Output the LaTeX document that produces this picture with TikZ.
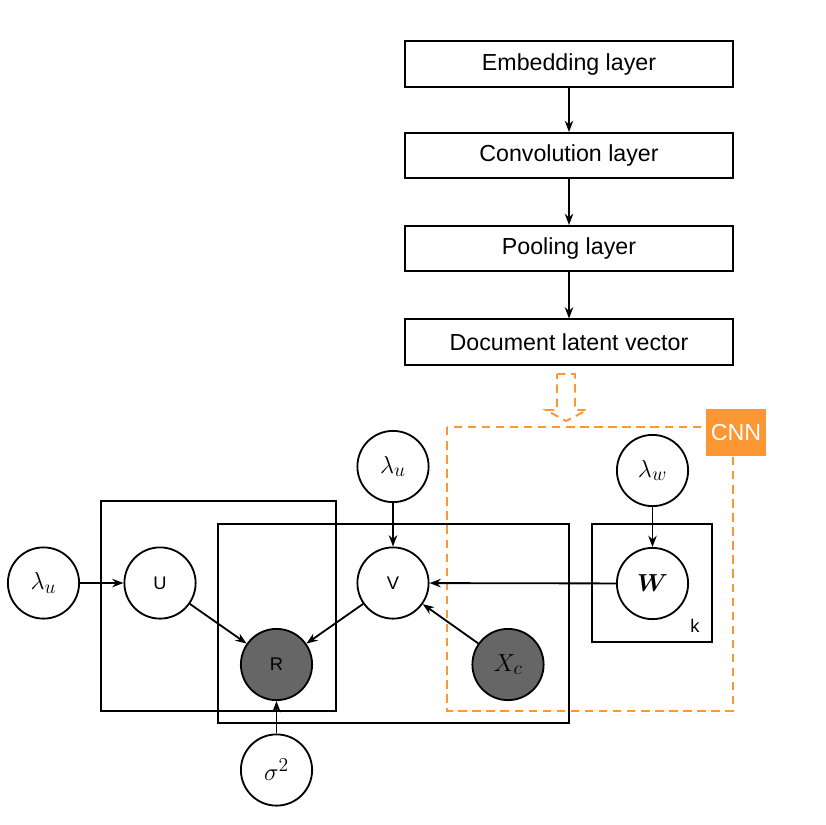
\RequirePackage{fix-cm}
\documentclass[tikz,border=0pt]{standalone}
\usepackage{amsmath}
\usepackage{fontspec}
\setmainfont{Liberation Sans}
\usepackage{tikz}
\usetikzlibrary{arrows.meta}
\definecolor{cnnOrange}{RGB}{252,152,52}
\definecolor{obsGrey}{RGB}{102,102,102}
\DeclareMathSizes{17.5}{17.5}{14}{10}

\begin{document}
\begin{tikzpicture}[
  x=0.025cm, y=-0.025cm,
  layer/.style={draw, line width=1.3pt, minimum width=8.2cm, minimum height=1.13cm,
                font=\fontsize{16.5}{20}\selectfont},
  var/.style={draw, circle, fill=white, line width=1.3pt, minimum size=1.78cm, inner sep=0pt,
              font=\fontsize{17.5}{21}\selectfont},
  obs/.style={var, fill=obsGrey},
  small/.style={font=\fontsize{13}{15}\selectfont},
  plate/.style={draw, line width=1.3pt},
  link/.style={-{Stealth[length=8pt,width=6pt]}, line width=1.3pt},
  cnnframe/.style={draw=cnnOrange, line width=1.4pt, dash pattern=on 6pt off 4pt},
]
\useasboundingbox (0,0) rectangle (826,824);

% CNN layers (top)
\node[layer] (embed) at (569,64)    {Embedding layer};
\node[layer] (conv)  at (569,155.5) {Convolution layer};
\node[layer] (pool)  at (569,248.5) {Pooling layer};
\node[layer] (doc)   at (569,342)   {Document latent vector};
\draw[link] (embed) -- (conv);
\draw[link] (conv) -- (pool);
\draw[link] (pool) -- (doc);

% hollow dashed arrow into the CNN frame
\draw[cnnframe] (557,374) -- (575,374) -- (575,410) -- (587,410) -- (566,421)
  -- (546,410) -- (557,410) -- cycle;

% CNN frame and its tag
\draw[cnnframe] (447,427) rectangle (733,711);
\node[fill=cnnOrange, text=white, minimum width=1.5cm, minimum height=1.18cm, inner sep=0pt,
      font=\fontsize{16.5}{20}\selectfont] (cnn) at (736,432.5) {CNN};

% plates
\draw[plate] (101,501) rectangle (336,711);
\draw[plate] (218,524) rectangle (569,723);
\draw[plate] (592,524) rectangle (712,642);
\node[small] (k) at (695,626) {k};

% variables
\node[var] (lamU)  at (43.5,583) {$\lambda_u$};
\node[var, small] (U) at (160,583) {U};
\node[obs, small] (R) at (276.5,664.5) {R};
\node[var, small] (V) at (393,583) {V};
\node[var] (lamV)  at (393,466.5) {$\lambda_u$};
\node[obs] (Xc)    at (508,664.5) {$X_c$};
\node[var] (W)     at (652.5,583.5) {$\boldsymbol{W}$};
\node[var] (lamW)  at (652.5,470.5) {$\lambda_w$};
\node[var] (sigma) at (276.5,770) {$\sigma^2$};

% dependencies
\draw[link] (lamU) -- (U);
\draw[link] (U) -- (R);
\draw[link] (V) -- (R);
\draw[link] (lamV) -- (V);
\draw[link] (W) -- (V);
\draw[link] (Xc) -- (V);
\draw[link] (lamW) -- (W);
\draw[link] (sigma) -- (R);

\end{tikzpicture}
\end{document}
